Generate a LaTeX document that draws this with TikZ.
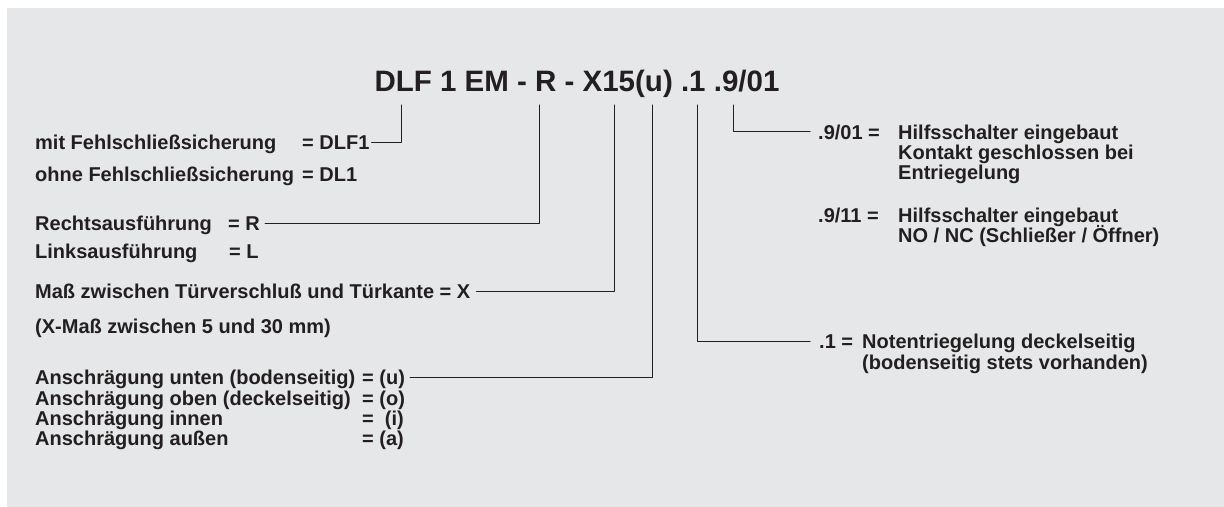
\documentclass[tikz,border=0pt]{standalone}
\usepackage{fontspec}
\setmainfont{Liberation Sans}
\definecolor{bg}{HTML}{E6E7E8}
\definecolor{ink}{HTML}{231F20}
\begin{document}
\begin{tikzpicture}[x=1bp,y=-1bp,line join=round,line cap=round,
  font=\fontsize{20bp}{22bp}\selectfont\bfseries,
  txt/.style={anchor=base west,inner sep=0pt,text=ink},
  lead/.style={draw=ink,line width=1bp}]
 \useasboundingbox (0,0) rectangle (1224,507);
 \fill[white] (0,0) rectangle (1224,507);
 \fill[bg] (7,8) rectangle (1224,507);
 % Typenschluessel
 \node[txt,anchor=base,font=\fontsize{29.5bp}{30bp}\selectfont\bfseries] (code) at (577,92) {DLF 1 EM - R - X15(u) .1 .9/01};
 \foreach \n/\x in {dlf/401,r/539,x/614,u/652,ne/697,hs/733}
  \coordinate (t\n) at (\x,105);
 % links
 \node[txt] (mit) at (35,150) {mit Fehlschließsicherung};
 \node[txt] (mitv) at (302,150) {= DLF1};
 \node[txt] (ohne) at (35,182) {ohne Fehlschließsicherung};
 \node[txt] (ohnev) at (302,182) {= DL1};
 \node[txt] (re) at (35,231) {Rechtsausführung};
 \node[txt] (rev) at (228,231) {= R};
 \node[txt] (li) at (35,259) {Linksausführung};
 \node[txt] (liv) at (229,259) {= L};
 \node[txt] (mass) at (35,299) {Maß zwischen Türverschluß und Türkante = X};
 \node[txt] (xmass) at (35,334) {(X-Maß zwischen 5 und 30 mm)};
 \node[txt] (an1) at (35,385) {Anschrägung unten (bodenseitig)};
 \node[txt] (an1v) at (362,385) {= (u)};
 \node[txt] (an2) at (35,405) {Anschrägung oben (deckelseitig)};
 \node[txt] (an2v) at (362,405) {= (o)};
 \node[txt] (an3) at (35,425) {Anschrägung innen};
 \node[txt] (an3v) at (362,425) {=\ \ (i)};
 \node[txt] (an4) at (35,445) {Anschrägung außen};
 \node[txt] (an4v) at (362,445) {= (a)};
 % rechts
 \node[txt] (n901) at (818,140) {.9/01 =};
 \node[txt] (h901a) at (898,140) {Hilfsschalter eingebaut};
 \node[txt] (h901b) at (898,160) {Kontakt geschlossen bei};
 \node[txt] (h901c) at (898,180) {Entriegelung};
 \node[txt] (n911) at (818,223) {.9/11 =};
 \node[txt] (h911a) at (898,223) {Hilfsschalter eingebaut};
 \node[txt] (h911b) at (898,243) {NO / NC (Schließer / Öffner)};
 \node[txt] (n1) at (819,349) {.1 =};
 \node[txt] (ne1) at (862,349) {Notentriegelung deckelseitig};
 \node[txt] (ne2) at (862,370) {(bodenseitig stets vorhanden)};
 % Verbindungen
 \draw[lead] ([shift={(2,-7)}]mitv.base east) -| (tdlf);
 \draw[lead] ([shift={(5,-7)}]rev.base east) -| (tr);
 \draw[lead] ([shift={(6,-7)}]mass.base east) -| (tx);
 \draw[lead] ([shift={(5,-7)}]an1v.base east) -| (tu);
 \draw[lead] (tne) |- ([shift={(-9,-7)}]n1.base west);
 \draw[lead] (ths) |- ([shift={(-8,-8)}]n901.base west);
\end{tikzpicture}
\end{document}
